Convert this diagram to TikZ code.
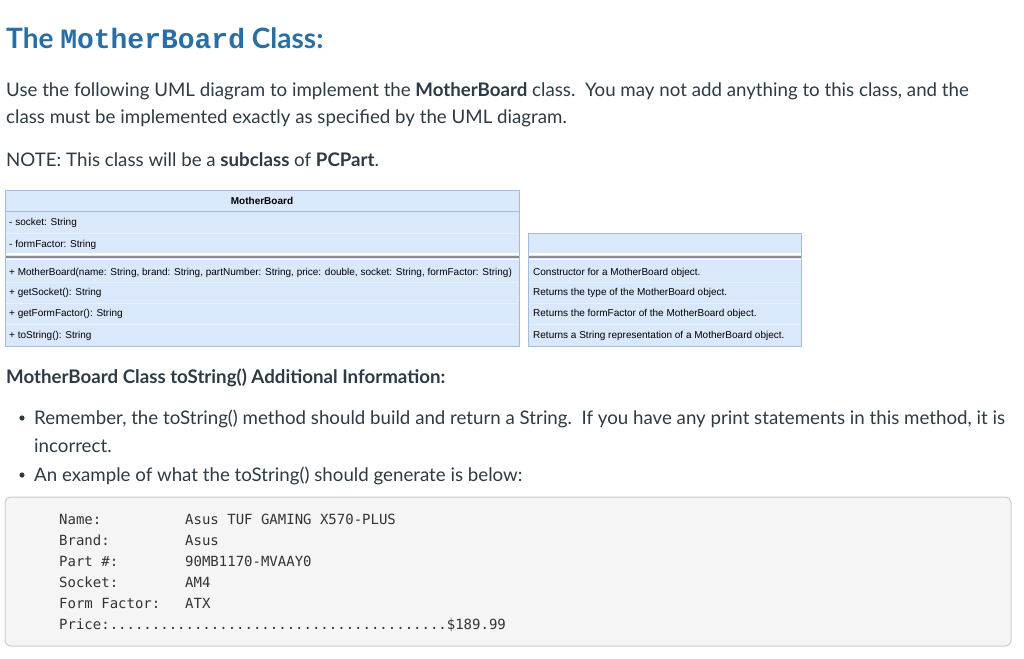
\documentclass[tikz,border=0pt]{standalone}
\usepackage{fontspec}
\setmainfont{Lato}
\newfontfamily\umlfont{Liberation Sans}
\newfontfamily\codefont{DejaVu Sans Mono}
\newfontfamily\titlemono{Liberation Mono}
\definecolor{bodytext}{HTML}{2D3B45}
\definecolor{titleblue}{HTML}{2A6EA6}
\definecolor{umlfill}{HTML}{DAE8FC}
\definecolor{umlborder}{HTML}{A3BCDF}
\definecolor{umlsep}{HTML}{EAF1FB}
\definecolor{umldiv}{HTML}{8C8C8C}
\definecolor{codefill}{HTML}{F5F5F5}
\definecolor{codeborder}{HTML}{C7CDD1}
\definecolor{codetext}{HTML}{333333}
\tikzset{
  txt/.style={anchor=base west, inner sep=0pt, text=bodytext, font=\fontsize{18.7}{22}\selectfont},
  uml/.style={anchor=base west, inner sep=0pt, text=black, font=\umlfont\fontsize{10}{11}\selectfont},
  umlrow/.style={draw=umlsep, line width=1pt},
  code/.style={anchor=base west, inner sep=0pt, text=codetext, font=\codefont\fontsize{14}{16}\selectfont},
}
\begin{document}
\begin{tikzpicture}[x=1pt,y=-1pt]
\useasboundingbox[fill=white] (0,0) rectangle (1024,658);
% title
\node[anchor=base west, inner sep=0pt, text=titleblue, font=\bfseries\fontsize{28}{30}\selectfont] (title) at (6,49)
  {The {\titlemono\bfseries MotherBoard} Class:};
% paragraphs
\node[txt] (p1) at (6,96) {Use the following UML diagram to implement the \textbf{MotherBoard} class.\ \ You may not add anything to this class, and the};
\node[txt] (p2) at (6,124) {class must be implemented exactly as specified by the UML diagram.};
\node[txt] (p3) at (6,166) {NOTE: This class will be a \textbf{subclass} of \textbf{PCPart}.};
% UML left box
\fill[umlfill] (5,190) rectangle (519,346);
\draw[umlrow] (6,233) -- (518,233);
\draw[umlrow] (6,282) -- (518,282);
\draw[umlrow] (6,303) -- (518,303);
\draw[umlrow] (6,324) -- (518,324);
\draw[umlborder, line width=1pt] (5,211) -- (519,211);
\draw[white, line width=2pt] (5,253.5) -- (519,253.5);
\draw[umldiv, line width=2pt] (5,256.8) -- (519,256.8);
\draw[white, line width=1pt] (5,259) -- (519,259);
\draw[umlborder, line width=1pt] (5,190) rectangle (519,346);
\node[anchor=base, inner sep=0pt, font=\umlfont\bfseries\fontsize{10}{11}\selectfont] (umlname) at (262,204.5) {MotherBoard};
\node[uml] (a1) at (9,225.5) {- socket: String};
\node[uml] (a2) at (9,247.5) {- formFactor: String};
\node[uml] (m1) at (9,275.5) {+ MotherBoard(name: String, brand: String, partNumber: String, price: double, socket: String, formFactor: String)};
\node[uml] (m2) at (9,295.5) {+ getSocket(): String};
\node[uml] (m3) at (9,316.5) {+ getFormFactor(): String};
\node[uml] (m4) at (9,338.5) {+ toString(): String};
% UML right box
\fill[umlfill] (528,233) rectangle (801,346);
\draw[umlrow] (529,282) -- (800,282);
\draw[umlrow] (529,303) -- (800,303);
\draw[umlrow] (529,324) -- (800,324);
\draw[white, line width=2pt] (528,253.5) -- (801,253.5);
\draw[umldiv, line width=2pt] (528,256.8) -- (801,256.8);
\draw[white, line width=1pt] (528,259) -- (801,259);
\draw[umlborder, line width=1pt] (528,233) rectangle (801,346);
\node[uml] (d1) at (533,275.5) {Constructor for a MotherBoard object.};
\node[uml] (d2) at (533,295.5) {Returns the type of the MotherBoard object.};
\node[uml] (d3) at (533,316.5) {Returns the formFactor of the MotherBoard object.};
\node[uml] (d4) at (533,338.5) {Returns a String representation of a MotherBoard object.};
% heading
\node[txt, font=\bfseries\fontsize{18.7}{22}\selectfont] (h2) at (6,383) {MotherBoard Class toString() Additional Information:};
% bullets
\fill[bodytext] (22,418) circle (2.6);
\node[txt] (b1) at (34,424) {Remember, the toString() method should build and return a String.\ \ If you have any print statements in this method, it is};
\node[txt] (b1b) at (34,452) {incorrect.};
\fill[bodytext] (22,475) circle (2.6);
\node[txt] (b2) at (34,481) {An example of what the toString() should generate is below:};
% code box
\draw[fill=codefill, draw=codeborder, line width=1pt, rounded corners=6pt] (5,497) rectangle (1011,646);
\node[code] (c1) at (59,524) {Name:};
\node[code] (c2) at (59,545) {Brand:};
\node[code] (c3) at (59,566) {Part \#:};
\node[code] (c4) at (59,587) {Socket:};
\node[code] (c5) at (59,608) {Form Factor:};
\node[code] (c6) at (59,629) {Price:........................................\$189.99};
\node[code] (v1) at (185,524) {Asus TUF GAMING X570-PLUS};
\node[code] (v2) at (185,545) {Asus};
\node[code] (v3) at (185,566) {90MB1170-MVAAY0};
\node[code] (v4) at (185,587) {AM4};
\node[code] (v5) at (185,608) {ATX};
\end{tikzpicture}
\end{document}
